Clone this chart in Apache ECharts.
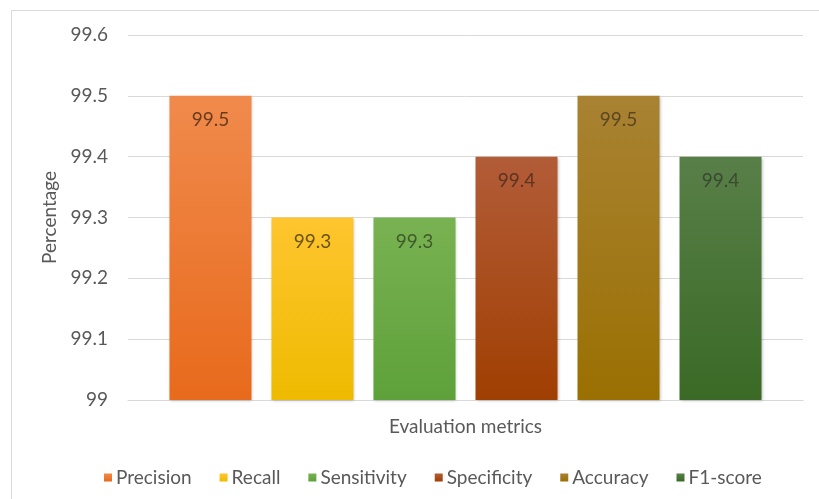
<!DOCTYPE html>
<html>
<head>
<meta charset="utf-8">
<script src="https://cdn.jsdelivr.net/npm/echarts@6/dist/echarts.min.js"></script>
<style>
  html, body { margin: 0; padding: 0; background: #fff; }
</style>
</head>
<body>
<div id="myChart" style="width:819px;height:499px;"></div>
<script>
// metric names and values
var metrics = ['Precision', 'Recall', 'Sensitivity', 'Specificity', 'Accuracy', 'F1-score'];
var values = [99.5, 99.3, 99.3, 99.4, 99.5, 99.4];
var yTicks = [99, 99.1, 99.2, 99.3, 99.4, 99.5, 99.6];

// colours per bar: [top, bottom]
var colors = [
  ['#f08a4c', '#e86a1c'],
  ['#ffc52f', '#eebb00'],
  ['#79b252', '#5ea13a'],
  ['#b25c38', '#a03f02'],
  ['#a98233', '#9a7002'],
  ['#587f48', '#3a6a26']
];
var labelColors = ['#6b3c1e', '#6b5410', '#3f5c2a', '#5c3422', '#5c4622', '#3a4a30'];

var myChart = echarts.init(document.getElementById('myChart'));

myChart.setOption({
  animation: false,
  textStyle: { fontFamily: 'Lato' },
  graphic: [{
    type: 'rect',
    shape: { x: 11.5, y: 10.5, width: 830, height: 520 },
    style: { fill: 'none', stroke: '#d9d9d9', lineWidth: 1 },
    silent: true
  }],
  legend: {
    data: metrics,
    left: 99,
    top: 463,
    itemWidth: 8,
    itemHeight: 8,
    itemGap: 28,
    icon: 'rect',
    textStyle: { fontSize: 19, color: '#595959', fontFamily: 'Lato', padding: [0, 0, 0, -1] }
  },
  grid: {
    left: 128,
    right: 16,
    top: 35,
    bottom: 99
  },
  xAxis: {
    type: 'category',
    data: [''],
    name: 'Evaluation metrics',
    nameLocation: 'middle',
    nameGap: 17,
    nameTextStyle: { fontSize: 19, color: '#595959', verticalAlign: 'top' },
    axisLine: { lineStyle: { color: '#d9d9d9', width: 1 } },
    axisTick: { show: false },
    axisLabel: { show: false }
  },
  yAxis: {
    type: 'value',
    min: yTicks[0],
    max: yTicks[yTicks.length - 1],
    interval: 0.1,
    name: 'Percentage',
    nameLocation: 'middle',
    nameGap: 57,
    nameTextStyle: { fontSize: 19, color: '#595959' },
    axisLine: { show: false },
    axisTick: { show: false },
    axisLabel: {
      fontSize: 19,
      color: '#595959',
      margin: 20,
      formatter: function (v) {
        return String(Math.round(v * 10) / 10);
      }
    },
    splitLine: { lineStyle: { color: '#d9d9d9', width: 1 } }
  },
  series: metrics.map(function (name, i) {
    return {
      name: name,
      type: 'bar',
      data: [values[i]],
      barWidth: 82,
      barGap: '24.4%',
      itemStyle: {
        color: new echarts.graphic.LinearGradient(0, 0, 0, 1, [
          { offset: 0, color: colors[i][0] },
          { offset: 1, color: colors[i][1] }
        ]),
        shadowBlur: 3,
        shadowColor: 'rgba(0,0,0,0.25)',
        shadowOffsetX: 1,
        shadowOffsetY: 1
      },
      label: {
        show: true,
        position: 'insideTop',
        distance: 15,
        fontSize: 19,
        color: labelColors[i],
        fontFamily: 'Lato'
      }
    };
  })
});

window.onresize = function () {
  myChart.resize();
};
</script>
</body>
</html>
